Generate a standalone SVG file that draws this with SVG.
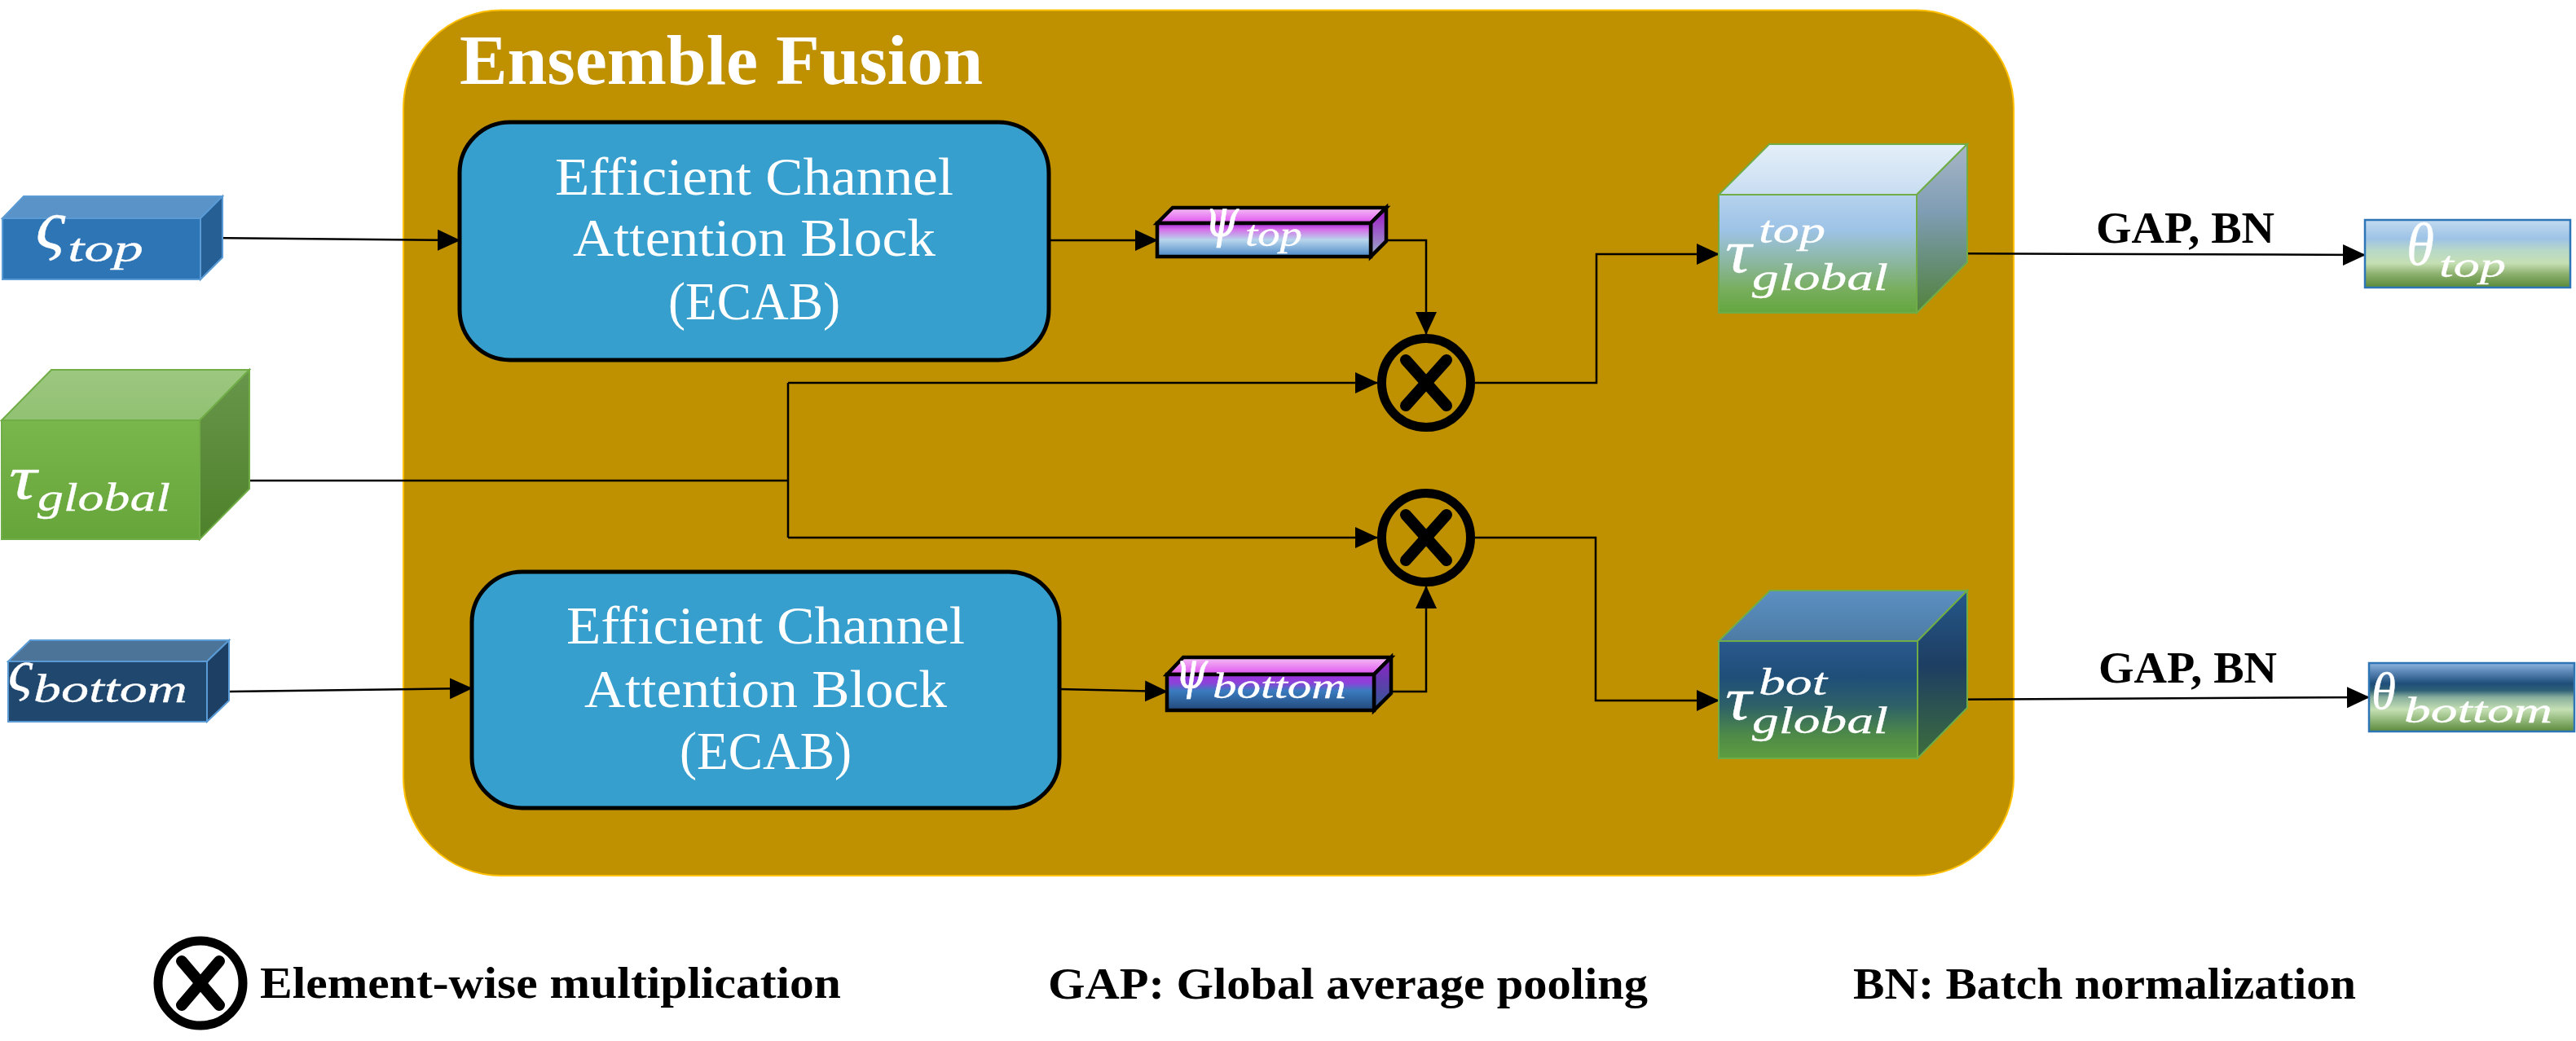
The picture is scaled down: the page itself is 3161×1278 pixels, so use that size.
<svg xmlns="http://www.w3.org/2000/svg" width="3161" height="1278" viewBox="0 0 3161 1278">
<style>
.conn{fill:none;stroke:#000;stroke-width:2.5}
.arr{marker-end:url(#ah)}
.lbl{font-family:"Liberation Serif","DejaVu Serif",serif;fill:#fff}
.blk{font-family:"Liberation Serif","DejaVu Serif",serif;fill:#000;font-weight:bold}
.m{font-family:"Liberation Serif","DejaVu Serif",serif;font-style:italic;fill:#fff;stroke:#fff;stroke-width:0.3}
.g{font-family:"DejaVu Serif","Liberation Serif",serif;font-style:italic;fill:#fff;stroke:#fff;stroke-width:0.6}
.ecab{fill:#369FCD;stroke:#000;stroke-width:5}
.mul circle{fill:none;stroke:#000;stroke-width:11}
.mul line{stroke:#000;stroke-width:14;stroke-linecap:round}
.psi{stroke:#000;stroke-width:4.5;stroke-linejoin:miter}
</style>
<defs>
<marker id="ah" markerUnits="userSpaceOnUse" markerWidth="28" markerHeight="28" viewBox="0 0 28 28" refX="27" refY="14" orient="auto">
<path d="M0,1 L28,14 L0,27 z" fill="#000"/>
</marker>
<linearGradient id="gTgF" x1="0" y1="0" x2="0" y2="1"><stop offset="0" stop-color="#79B64B"/><stop offset="1" stop-color="#66A53A"/></linearGradient>
<linearGradient id="gTgT" x1="0" y1="0" x2="0" y2="1"><stop offset="0" stop-color="#9CC77F"/><stop offset="1" stop-color="#91C173"/></linearGradient>
<linearGradient id="gTgS" x1="0" y1="0" x2="0" y2="1"><stop offset="0" stop-color="#68964B"/><stop offset="1" stop-color="#4E812A"/></linearGradient>
<linearGradient id="gPF" x1="0" y1="0" x2="0" y2="1"><stop offset="0" stop-color="#A424D8"/><stop offset="0.18" stop-color="#D46CE8"/><stop offset="0.5" stop-color="#B8D6EC"/><stop offset="1" stop-color="#4A88C8"/></linearGradient>
<linearGradient id="gPT" x1="0" y1="0" x2="0" y2="1"><stop offset="0" stop-color="#F4C2F4"/><stop offset="1" stop-color="#E052F0"/></linearGradient>
<linearGradient id="gPS" x1="0" y1="0" x2="0" y2="1"><stop offset="0" stop-color="#A010C8"/><stop offset="1" stop-color="#98B0C8"/></linearGradient>
<linearGradient id="gPBF" x1="0" y1="0" x2="0" y2="1"><stop offset="0" stop-color="#A030E0"/><stop offset="0.25" stop-color="#8A44D8"/><stop offset="0.45" stop-color="#3A7CC0"/><stop offset="1" stop-color="#22487A"/></linearGradient>
<linearGradient id="gPBS" x1="0" y1="0" x2="0" y2="1"><stop offset="0" stop-color="#9020C8"/><stop offset="1" stop-color="#2A5E90"/></linearGradient>
<linearGradient id="gTtF" x1="0" y1="0" x2="0" y2="1"><stop offset="0" stop-color="#B5D2EE"/><stop offset="0.3" stop-color="#9DC3E6"/><stop offset="0.55" stop-color="#8DB8A6"/><stop offset="0.8" stop-color="#78AE5E"/><stop offset="1" stop-color="#63A63E"/></linearGradient>
<linearGradient id="gTtT" x1="0" y1="0" x2="0" y2="1"><stop offset="0" stop-color="#E4EFF9"/><stop offset="1" stop-color="#C8DDF1"/></linearGradient>
<linearGradient id="gTtS" x1="0" y1="0" x2="0" y2="1"><stop offset="0" stop-color="#A8B6C6"/><stop offset="0.4" stop-color="#7F9DB4"/><stop offset="0.7" stop-color="#668E78"/><stop offset="1" stop-color="#52823A"/></linearGradient>
<linearGradient id="gTbF" x1="0" y1="0" x2="0" y2="1"><stop offset="0" stop-color="#2A5A8E"/><stop offset="0.3" stop-color="#1F4E79"/><stop offset="0.55" stop-color="#2E6068"/><stop offset="0.8" stop-color="#4E8A48"/><stop offset="1" stop-color="#5E9E40"/></linearGradient>
<linearGradient id="gTbT" x1="0" y1="0" x2="0" y2="1"><stop offset="0" stop-color="#5B90C2"/><stop offset="1" stop-color="#4D7BA5"/></linearGradient>
<linearGradient id="gTbS" x1="0" y1="0" x2="0" y2="1"><stop offset="0" stop-color="#24578A"/><stop offset="0.45" stop-color="#1E3E62"/><stop offset="1" stop-color="#3E6E3C"/></linearGradient>
<linearGradient id="gThT" x1="0" y1="0" x2="0" y2="1"><stop offset="0" stop-color="#C2DAF0"/><stop offset="0.28" stop-color="#9DC3E6"/><stop offset="0.45" stop-color="#B8D8C8"/><stop offset="0.64" stop-color="#C5E0B4"/><stop offset="0.8" stop-color="#8DB06E"/><stop offset="1" stop-color="#588A38"/></linearGradient>
<linearGradient id="gThB" x1="0" y1="0" x2="0" y2="1"><stop offset="0" stop-color="#90B6DE"/><stop offset="0.13" stop-color="#5A86B6"/><stop offset="0.3" stop-color="#1F4E79"/><stop offset="0.4" stop-color="#2F6076"/><stop offset="0.5" stop-color="#88AE9C"/><stop offset="0.68" stop-color="#C5E0B4"/><stop offset="1" stop-color="#5A8A3A"/></linearGradient>
</defs>

<g id="ensemble-fusion">
<rect x="495" y="12.5" width="1976" height="1062.5" rx="120" ry="120" fill="#BF9000" stroke="#FFC000" stroke-width="2"/>
<text class="lbl" x="564" y="103" font-size="86" font-weight="bold" textLength="642" lengthAdjust="spacingAndGlyphs">Ensemble Fusion</text>
</g>

<g id="connectors">
<path class="conn arr" d="M246,292 L564,295"/>
<path class="conn arr" d="M282,849 L579,845"/>
<path class="conn" d="M245,590 L967,590 M967,470 L967,660"/>
<path class="conn arr" d="M967,470 L1690,470"/>
<path class="conn arr" d="M967,660 L1690,660"/>
<path class="conn arr" d="M1287,295 L1420,295"/>
<path class="conn arr" d="M1300,846 L1432,849"/>
<path class="conn arr" d="M1701,295 L1750,295 L1750,410"/>
<path class="conn arr" d="M1707,849 L1750,849 L1750,720"/>
<path class="conn arr" d="M1810,470 L1959,470 L1959,312 L2109,312"/>
<path class="conn arr" d="M1810,660 L1958,660 L1958,860 L2109,860"/>
<path class="conn arr" d="M2352,311 L2902,313"/>
<path class="conn arr" d="M2353,859 L2907,856"/>
</g>

<g id="s-top">
<polygon points="3,268 29,241 273,241 246,268" fill="#5A93C8" stroke="#5B9BD5" stroke-width="2"/>
<polygon points="246,268 273,241 273,316 246,343" fill="#255F94" stroke="#5B9BD5" stroke-width="2"/>
<rect x="3" y="268" width="243" height="75" fill="#2E75B6" stroke="#5B9BD5" stroke-width="2"/>
<text class="m" x="44" y="305" font-size="86" textLength="36" lengthAdjust="spacingAndGlyphs">ς</text>
<text class="m" x="83" y="321" font-size="48" textLength="93" lengthAdjust="spacingAndGlyphs">top</text>
</g>

<g id="tau-global">
<polygon points="2,516 63,454 306,454 245,516" fill="url(#gTgT)" stroke="#70AD47" stroke-width="2"/>
<polygon points="245,516 306,454 306,600 245,662" fill="url(#gTgS)" stroke="#70AD47" stroke-width="2"/>
<rect x="2" y="516" width="243" height="146" fill="url(#gTgF)" stroke="#70AD47" stroke-width="2"/>
<text class="m" x="11" y="612" font-size="76" textLength="34" lengthAdjust="spacingAndGlyphs">τ</text>
<text class="m" x="46" y="627" font-size="48" textLength="163" lengthAdjust="spacingAndGlyphs">global</text>
</g>

<g id="s-bottom">
<polygon points="10,812 37,786 281,786 254,812" fill="#4B7498" stroke="#5B9BD5" stroke-width="2"/>
<polygon points="254,812 281,786 281,860 254,886" fill="#1C3F63" stroke="#5B9BD5" stroke-width="2"/>
<rect x="10" y="812" width="244" height="74" fill="#20486F" stroke="#5B9BD5" stroke-width="2"/>
<text class="m" x="10" y="848" font-size="74" textLength="30" lengthAdjust="spacingAndGlyphs">ς</text>
<text class="m" x="41" y="862" font-size="48" textLength="189" lengthAdjust="spacingAndGlyphs">bottom</text>
</g>

<g id="ecab-top">
<rect class="ecab" x="564" y="150" width="723" height="292" rx="62" ry="62"/>
<text class="lbl" x="925.5" y="239" font-size="66" text-anchor="middle" textLength="489" lengthAdjust="spacingAndGlyphs">Efficient Channel</text>
<text class="lbl" x="925.5" y="314" font-size="66" text-anchor="middle" textLength="445" lengthAdjust="spacingAndGlyphs">Attention Block</text>
<text class="lbl" x="925.5" y="392" font-size="66" text-anchor="middle" textLength="211" lengthAdjust="spacingAndGlyphs">(ECAB)</text>
</g>

<g id="ecab-bottom">
<rect class="ecab" x="579" y="702" width="721" height="290" rx="62" ry="62"/>
<text class="lbl" x="939.5" y="790" font-size="66" text-anchor="middle" textLength="489" lengthAdjust="spacingAndGlyphs">Efficient Channel</text>
<text class="lbl" x="939.5" y="868" font-size="66" text-anchor="middle" textLength="445" lengthAdjust="spacingAndGlyphs">Attention Block</text>
<text class="lbl" x="939.5" y="944" font-size="66" text-anchor="middle" textLength="211" lengthAdjust="spacingAndGlyphs">(ECAB)</text>
</g>

<g id="psi-top">
<polygon class="psi" points="1420,274 1439,255 1701,255 1682,274" fill="url(#gPT)"/>
<polygon class="psi" points="1682,274 1701,255 1701,296 1682,315" fill="url(#gPS)"/>
<rect class="psi" x="1420" y="274" width="262" height="41" fill="url(#gPF)"/>
<text class="g" x="1478" y="290" font-size="66" textLength="42" lengthAdjust="spacingAndGlyphs">ψ</text>
<text class="m" x="1528" y="302" font-size="44" textLength="70" lengthAdjust="spacingAndGlyphs">top</text>
</g>

<g id="psi-bottom">
<polygon class="psi" points="1432,828 1452,807 1707,807 1686,828" fill="url(#gPT)"/>
<polygon class="psi" points="1686,828 1707,807 1707,851 1686,872" fill="url(#gPBS)"/>
<rect class="psi" x="1432" y="828" width="254" height="44" fill="url(#gPBF)"/>
<text class="g" x="1442" y="845" font-size="64" textLength="40" lengthAdjust="spacingAndGlyphs">ψ</text>
<text class="m" x="1488" y="857" font-size="44" textLength="164" lengthAdjust="spacingAndGlyphs">bottom</text>
</g>

<g id="mul-top" class="mul">
<circle cx="1750" cy="470" r="54.5"/>
<line x1="1725" y1="442" x2="1775" y2="498"/>
<line x1="1775" y1="442" x2="1725" y2="498"/>
</g>

<g id="mul-bottom" class="mul">
<circle cx="1750" cy="660" r="54.5"/>
<line x1="1725" y1="632" x2="1775" y2="688"/>
<line x1="1775" y1="632" x2="1725" y2="688"/>
</g>

<g id="tau-top-global">
<polygon points="2109,239 2171,177 2414,177 2352,239" fill="url(#gTtT)" stroke="#70AD47" stroke-width="2"/>
<polygon points="2352,239 2414,177 2414,322 2352,384" fill="url(#gTtS)" stroke="#70AD47" stroke-width="2"/>
<rect x="2109" y="239" width="243" height="145" fill="url(#gTtF)" stroke="#70AD47" stroke-width="2"/>
<text class="m" x="2117" y="334" font-size="74" textLength="32" lengthAdjust="spacingAndGlyphs">τ</text>
<text class="m" x="2158" y="298" font-size="46" textLength="82" lengthAdjust="spacingAndGlyphs">top</text>
<text class="m" x="2150" y="356" font-size="46" textLength="167" lengthAdjust="spacingAndGlyphs">global</text>
</g>

<g id="tau-bot-global">
<polygon points="2109,787 2172,725 2414,725 2353,787" fill="url(#gTbT)" stroke="#70AD47" stroke-width="2"/>
<polygon points="2353,787 2414,725 2414,869 2353,931" fill="url(#gTbS)" stroke="#70AD47" stroke-width="2"/>
<rect x="2109" y="787" width="244" height="144" fill="url(#gTbF)" stroke="#70AD47" stroke-width="2"/>
<text class="m" x="2117" y="883" font-size="74" textLength="32" lengthAdjust="spacingAndGlyphs">τ</text>
<text class="m" x="2158" y="853" font-size="46" textLength="84" lengthAdjust="spacingAndGlyphs">bot</text>
<text class="m" x="2150" y="900" font-size="46" textLength="167" lengthAdjust="spacingAndGlyphs">global</text>
</g>

<g id="theta-top">
<rect x="2902" y="270" width="252" height="83" fill="url(#gThT)" stroke="#2E75B6" stroke-width="2.5"/>
<text class="m" x="2953" y="325" font-size="73" textLength="34" lengthAdjust="spacingAndGlyphs">θ</text>
<text class="m" x="2993" y="340" font-size="44" textLength="82" lengthAdjust="spacingAndGlyphs">top</text>
</g>

<g id="theta-bottom">
<rect x="2907" y="814" width="252" height="84" fill="url(#gThB)" stroke="#2E75B6" stroke-width="2.5"/>
<text class="m" x="2910" y="870" font-size="63" textLength="30" lengthAdjust="spacingAndGlyphs">θ</text>
<text class="m" x="2950" y="887" font-size="44" textLength="182" lengthAdjust="spacingAndGlyphs">bottom</text>
</g>

<g id="edge-labels">
<text class="blk" x="2572" y="298" font-size="54" textLength="219" lengthAdjust="spacingAndGlyphs">GAP, BN</text>
<text class="blk" x="2575" y="838" font-size="54" textLength="219" lengthAdjust="spacingAndGlyphs">GAP, BN</text>
</g>

<g id="legend">
<g class="mul">
<circle cx="246" cy="1207" r="52"/>
<line x1="223" y1="1180" x2="269" y2="1234"/>
<line x1="269" y1="1180" x2="223" y2="1234"/>
</g>
<text class="blk" x="319" y="1225" font-size="54" textLength="713" lengthAdjust="spacingAndGlyphs">Element-wise multiplication</text>
<text class="blk" x="1286" y="1226" font-size="54" textLength="736" lengthAdjust="spacingAndGlyphs">GAP: Global average pooling</text>
<text class="blk" x="2274" y="1226" font-size="54" textLength="617" lengthAdjust="spacingAndGlyphs">BN: Batch normalization</text>
</g>
</svg>
